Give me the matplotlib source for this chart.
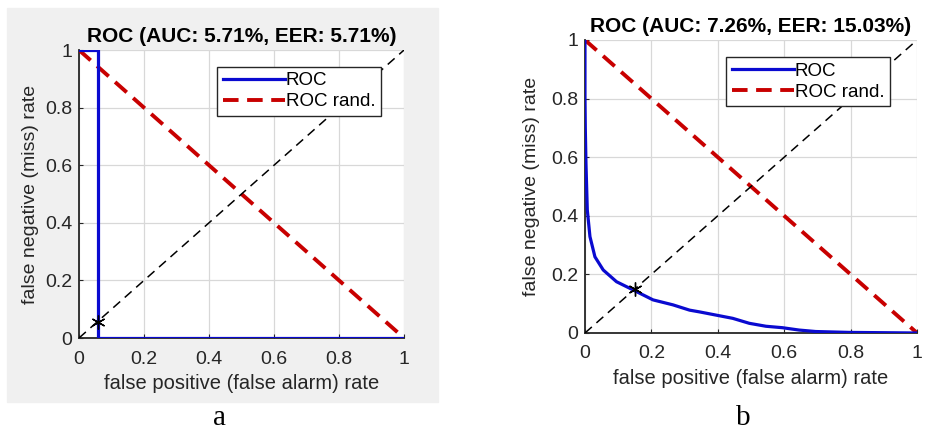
import numpy as np
import matplotlib
matplotlib.use('Agg')
import matplotlib.pyplot as plt
from matplotlib.patches import Rectangle

plt.rcParams['font.family'] = ['Liberation Sans', 'DejaVu Sans']

# panel (a): step-shaped ROC
A_FPR = [0.0, 0.0571, 0.0571, 1.0]
A_FNR = [1.0, 1.0, 0.0, 0.0]
A_EER = 0.0571
A_TITLE = 'ROC (AUC: 5.71%, EER: 5.71%)'

# panel (b): smooth ROC
B_FPR = [0.0, 0.0, 0.001, 0.003, 0.007, 0.015, 0.03, 0.055, 0.095, 0.145,
         0.205, 0.265, 0.315, 0.345, 0.395, 0.445, 0.495, 0.545, 0.595,
         0.645, 0.695, 0.795, 0.9, 1.0]
B_FNR = [1.0, 0.807, 0.7, 0.579, 0.42, 0.329, 0.26, 0.215, 0.175, 0.147,
         0.113, 0.096, 0.078, 0.072, 0.061, 0.05, 0.033, 0.023, 0.018,
         0.01, 0.005, 0.002, 0.001, 0.0]
B_EER = 0.1503
B_TITLE = 'ROC (AUC: 7.26%, EER: 15.03%)'

TICKS = [0, 0.2, 0.4, 0.6, 0.8, 1]
TICK_LABELS = ['0', '0.2', '0.4', '0.6', '0.8', '1']

BLUE = '#0a0ad0'
RED = '#c80000'
INK = '#262626'


def draw_panel(ax, fpr, fnr, eer, title, ylabelpad):
    ax.set_facecolor('white')
    ax.plot(fpr, fnr, color=BLUE, lw=2.3, label='ROC', zorder=4)
    ax.plot([0, 1], [1, 0], color=RED, lw=2.8, ls=(0, (4, 2.2)),
            label='ROC rand.', zorder=3)
    ax.plot([0, 1], [0, 1], color='black', lw=1.1, ls=(0, (6, 4)), zorder=3)
    ax.plot([eer], [eer], marker=(6, 2, 0), color='black', ms=10, mew=1.0,
            zorder=5)
    ax.set_xlim(0, 1)
    ax.set_ylim(0, 1)
    ax.set_xticks(TICKS)
    ax.set_xticklabels(TICK_LABELS)
    ax.set_yticks(TICKS)
    ax.set_yticklabels(TICK_LABELS)
    ax.tick_params(direction='in', length=3, labelsize=14, colors=INK)
    ax.tick_params(axis='x', pad=9)
    ax.tick_params(axis='y', pad=5)
    ax.grid(True, color='#d8d8d8', lw=0.9)
    ax.set_axisbelow(True)
    for s in ('top', 'right'):
        ax.spines[s].set_visible(False)
    for s in ('left', 'bottom'):
        ax.spines[s].set_linewidth(1.3)
        ax.spines[s].set_color(INK)
    ax.set_title(title, fontsize=15, fontweight='bold', pad=6)
    ax.set_xlabel('false positive (false alarm) rate', fontsize=14.5,
                  color=INK, labelpad=5)
    ax.set_ylabel('false negative (miss) rate', fontsize=14,
                  color=INK, labelpad=ylabelpad)
    leg = ax.legend(loc='upper left', bbox_to_anchor=(0.425, 0.942),
                    fontsize=13.5, frameon=True, fancybox=False,
                    handlelength=3.3, handletextpad=0.05, borderpad=0.3,
                    labelspacing=0.2, borderaxespad=0)
    leg.get_frame().set_edgecolor(INK)
    leg.get_frame().set_linewidth(1.0)
    leg.get_frame().set_facecolor('white')
    leg.get_frame().set_alpha(1)


fig = plt.figure(figsize=(9.25, 4.4), dpi=100)
fig.patches.append(Rectangle((0.0076, 0.0864), 0.466, 0.8955,
                             transform=fig.transFigure, color='#f0f0f0',
                             zorder=-1))

ax_a = fig.add_axes([0.0854, 0.2318, 0.3514, 0.6545])
draw_panel(ax_a, A_FPR, A_FNR, A_EER, A_TITLE, 4)

ax_b = fig.add_axes([0.6324, 0.2432, 0.359, 0.6659])
draw_panel(ax_b, B_FPR, B_FNR, B_EER, B_TITLE, 8)

fig.text(0.237, 0.035, 'a', fontsize=21, family='Liberation Serif',
         ha='center', va='baseline')
fig.text(0.803, 0.035, 'b', fontsize=21, family='Liberation Serif',
         ha='center', va='baseline')

fig.savefig('out.png', dpi=100)
